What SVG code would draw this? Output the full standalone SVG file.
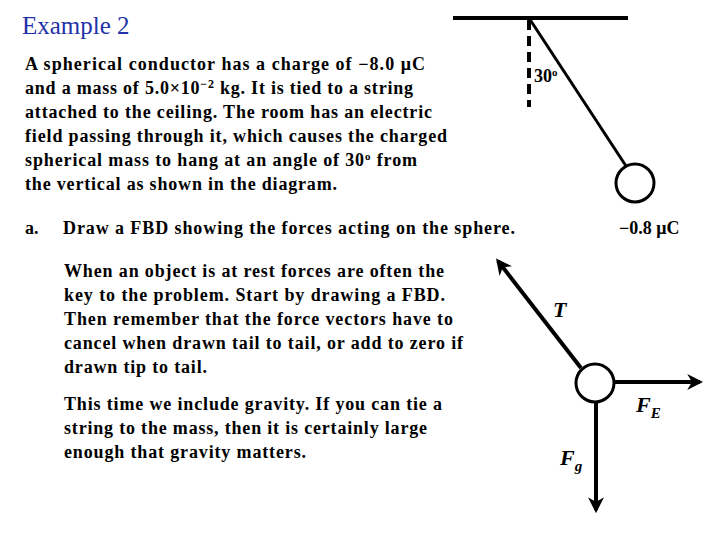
<svg xmlns="http://www.w3.org/2000/svg" width="720" height="540" viewBox="0 0 720 540">
<defs>
<style>
text{font-family:"Liberation Serif",serif;font-weight:bold;font-size:18px;fill:#000}
.i{font-style:italic}
.ln{stroke:#000;stroke-width:4;fill:none}
</style>
<marker id="ah" viewBox="0 0 10 10" refX="8" refY="5" markerWidth="4" markerHeight="4" orient="auto"><path d="M0,0 L10,5 L0,10 L3,5 Z" fill="#000"/></marker>
</defs>
<rect width="720" height="540" fill="#fff"/>
<text x="22" y="34" style="font-size:25px;fill:#2332a8;font-weight:normal">Example 2</text>
<g id="problem">
<text x="25" y="70" textLength="400" lengthAdjust="spacing">A spherical conductor has a charge of  −8.0 μC</text>
<text x="25" y="94" textLength="388" lengthAdjust="spacing">and a mass of 5.0×10<tspan dy="-6" font-size="12">−2</tspan><tspan dy="6"> kg. It is tied to a string</tspan></text>
<text x="25" y="118" textLength="407" lengthAdjust="spacing">attached to the ceiling. The room has an electric</text>
<text x="25" y="142" textLength="422" lengthAdjust="spacing">field passing through it, which causes the charged</text>
<text x="25" y="166" textLength="392" lengthAdjust="spacing">spherical mass to hang at an angle of 30<tspan dy="-6" font-size="11">o</tspan><tspan dy="6"> from</tspan></text>
<text x="25" y="190" textLength="312" lengthAdjust="spacing">the vertical as shown in the diagram.</text>
<text x="25" y="234">a.</text>
<text x="63" y="234" textLength="452" lengthAdjust="spacing">Draw a FBD showing the forces acting on the sphere.</text>
</g>
<g id="hint">
<text x="64" y="277" fill="#7a0000" textLength="380" lengthAdjust="spacing">When an object is at rest forces are often the</text>
<text x="64" y="301" fill="#7a0000" textLength="381" lengthAdjust="spacing">key to the problem. Start by drawing a FBD.</text>
<text x="64" y="325" fill="#7a0000" textLength="389" lengthAdjust="spacing">Then remember that the force vectors have to</text>
<text x="64" y="349" fill="#7a0000" textLength="399" lengthAdjust="spacing">cancel when drawn tail to tail, or add to zero if</text>
<text x="64" y="373" fill="#7a0000" textLength="143" lengthAdjust="spacing">drawn tip to tail.</text>
<text x="64" y="410" fill="#7a0000" textLength="378" lengthAdjust="spacing">This time we include gravity. If you can tie a</text>
<text x="64" y="434" fill="#7a0000" textLength="363" lengthAdjust="spacing">string to the mass, then it is certainly large</text>
<text x="64" y="458" fill="#7a0000" textLength="242" lengthAdjust="spacing">enough that gravity matters.</text>
</g>
<g id="pendulum">
<line x1="453" y1="18" x2="628" y2="18" class="ln"/>
<line x1="529" y1="20" x2="529" y2="107" class="ln" stroke-dasharray="10,6"/>
<line x1="529" y1="18" x2="626" y2="166" stroke="#000" stroke-width="3"/>
<circle cx="635" cy="183" r="19" fill="#fff" stroke="#000" stroke-width="3"/>
<text x="534" y="82">30<tspan dy="-6" font-size="11">o</tspan></text>
<text x="619" y="234">−0.8 μC</text>
</g>
<g id="fbd">
<circle cx="595" cy="383" r="19" fill="#fff" stroke="#000" stroke-width="3"/>
</g>
<g id="connectors">
<line x1="581" y1="368" x2="498" y2="261" class="ln" marker-end="url(#ah)"/>
<line x1="614" y1="382" x2="700" y2="382" class="ln" marker-end="url(#ah)"/>
<line x1="596" y1="402" x2="596" y2="510" class="ln" marker-end="url(#ah)"/>
</g>
<g id="labels">
<text x="553" y="317" class="i" style="font-size:22px">T</text>
<text x="636" y="412" class="i" style="font-size:22px">F<tspan dy="6" font-size="15">E</tspan></text>
<text x="560" y="465" class="i" style="font-size:22px">F<tspan dy="6" font-size="15">g</tspan></text>
</g>
</svg>
